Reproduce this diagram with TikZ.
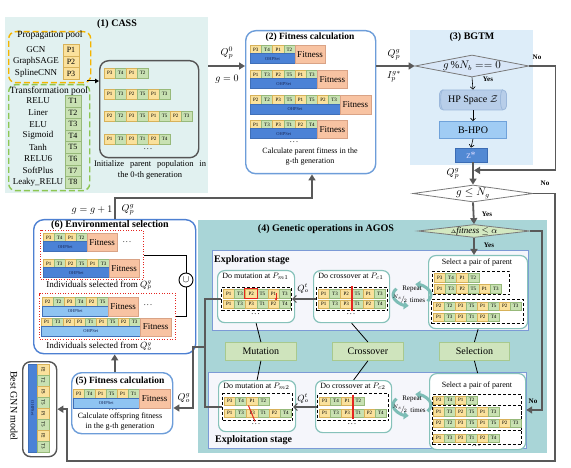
\documentclass[tikz,border=0pt]{standalone}
\usepackage{fontspec}
\usepackage{graphicx}
\setmainfont{Liberation Serif}
\usetikzlibrary{arrows.meta,shapes.geometric,calc}
\definecolor{cassbg}{HTML}{E1F1F0}
\definecolor{poolP}{HTML}{F4B400}
\definecolor{poolT}{HTML}{8DC653}
\definecolor{geneP}{HTML}{FAE19C}
\definecolor{gedgeP}{HTML}{D7B25A}
\definecolor{geneT}{HTML}{C8E1B2}
\definecolor{gedgeT}{HTML}{97B97A}
\definecolor{fitF}{HTML}{F8C3A2}
\definecolor{fitD}{HTML}{D9A386}
\definecolor{ohpD}{HTML}{4B82D6}
\definecolor{ohpL}{HTML}{8FC4F2}
\definecolor{ohpE}{HTML}{3F6FB8}
\definecolor{bluebox}{HTML}{6D9DD9}
\definecolor{popgray}{HTML}{555555}
\definecolor{agray}{HTML}{595959}
\definecolor{bgtmbg}{HTML}{DDEDF9}
\definecolor{diaF}{HTML}{D8E6F7}
\definecolor{diaD}{HTML}{7A7A7A}
\definecolor{hpF}{HTML}{B8CEE9}
\definecolor{hpD}{HTML}{9CB8DB}
\definecolor{bhF}{HTML}{A0CCF4}
\definecolor{bhD}{HTML}{6FA2DA}
\definecolor{zF}{HTML}{5289D3}
\definecolor{zD}{HTML}{3B6CB4}
\definecolor{tealbg}{HTML}{A9D5D7}
\definecolor{panelF}{HTML}{F5F6FB}
\definecolor{panelD}{HTML}{7C9AD6}
\definecolor{opD}{HTML}{86C2BA}
\definecolor{opF}{HTML}{CFE4BD}
\definecolor{opE}{HTML}{A8C98E}
\definecolor{fdF}{HTML}{D3E8C1}
\definecolor{repc}{HTML}{7DBDB6}
\definecolor{rd}{HTML}{E42520}
\definecolor{envD}{HTML}{4D80D2}
\definecolor{navy}{HTML}{1A2A5A}
\newcommand\fsz[1]{\fontsize{#1}{#1}\selectfont}
\newcommand\dd{.\hspace{1.2pt}.\hspace{1.2pt}.}
\newcommand\genes[6]{%
  \foreach \tp/\nm [count=\ii from 0] in {#6}{%
    \node[gene,fill=gene\tp,draw=gedge\tp,minimum width=#4pt,minimum height=#5pt,anchor=north west] (#1-\ii) at ({#2+\ii*#4},#3) {\tp\nm};
  }}
\newcommand\indiv[8]{%
  \genes{#1g}{#2}{#3}{#4}{8.5}{#6}
  \node[ohp,fill=#7,minimum width={#5*#4*1pt},minimum height=10pt,anchor=north west] (#1o) at (#2,#3+8.5) {OHPSet};
  \node[fitbox,minimum width=#8pt,minimum height=18.5pt,anchor=north west] (#1f) at ({#2+#5*#4},#3) {Fitness};}
\newcommand\bx[6]{\node[#6,anchor=north west,inner sep=0,minimum width={(#4-#2)*1pt},minimum height={(#5-#3)*1pt}] (#1) at (#2,#3) {};}
\begin{document}
\begin{tikzpicture}[x=1pt,y=-1pt,
  gene/.style={inner sep=0,line width=0.4pt,font=\fsz{5}},
  ohp/.style={inner sep=0,font=\fsz{4.5},text=navy,draw=ohpE,line width=0.3pt},
  fitbox/.style={inner sep=0,fill=fitF,draw=fitD,line width=0.4pt,font=\fsz{9}},
  arr/.style={draw=agray,line width=1.8pt,-{Triangle[length=6pt,width=7pt]}},
  tarr/.style={draw=black,line width=0.6pt,-{Straight Barb[length=2.5pt,width=5pt]}},
  oarr/.style={draw=agray,line width=1.2pt,-{Straight Barb[length=3.5pt,width=7pt]}},
  gline/.style={draw=agray,line width=1.6pt},
  lbl/.style={inner sep=0,font=\fsz{8}},
  mlbl/.style={inner sep=0,font=\fsz{10}},
  ttl/.style={inner sep=0,font=\bfseries\fsz{10}},
  yn/.style={inner sep=0,font=\bfseries\fsz{7}},
  opbox/.style={draw=opD,line width=1.2pt,rounded corners=7pt,fill=white},
  dbox/.style={draw=black,line width=1pt,dash pattern=on 3pt off 2pt},
  opg/.style={fill=opF,draw=opE,line width=0.8pt,font=\fsz{10}},
  rdot/.style={draw=rd,line width=1pt,dash pattern=on 1pt off 1.6pt},
  repa/.style={draw=repc,line width=3pt,-{Triangle[length=5pt,width=8pt]}},
  ]
\useasboundingbox (0,0) rectangle (571,468);
% ---------- backgrounds
\bx{cass}{5}{17}{208}{193}{fill=cassbg}
\bx{bgtm}{410}{30}{533}{165}{fill=bgtmbg}
\bx{agos}{198}{220}{547}{453}{fill=tealbg}
% ---------- (1) CASS
\node[ttl] (t1) at (117,24.5) {(1) CASS};
\bx{prop}{8}{31}{90}{82}{draw=poolP,line width=1.4pt,dash pattern=on 6pt off 3pt,rounded corners=7pt}
\node[inner sep=0,font=\fsz{9.5}] (tprop) at (50,35.5) {Propagation pool};
\foreach \lab/\nm [count=\ii from 0] in {GCN/1,GraphSAGE/2,SplineCNN/3}{
  \node[inner sep=0,font=\fsz{9}] (pl\ii) at (36,{50+11.7*\ii}) {\lab};
  \node[gene,fill=geneP,draw=gedgeP,font=\fsz{8},minimum width=16pt,minimum height=11.7pt] (pp\ii) at (71,{50+11.7*\ii}) {P\nm};
}
\bx{trans}{8}{84}{89}{190}{draw=poolT,line width=1.4pt,dash pattern=on 6pt off 3pt,rounded corners=7pt}
\node[inner sep=0,font=\fsz{9.5}] (ttrans) at (49,91) {Transformation pool};
\foreach \lab/\nm [count=\ii from 0] in {RELU/1,Liner/2,ELU/3,Sigmoid/4,Tanh/5,RELU6/6,SoftPlus/7,Leaky\_RELU/8}{
  \node[inner sep=0,font=\fsz{9}] (tl\ii) at (38,{101+11.6*\ii}) {\lab};
  \node[gene,fill=geneT,draw=gedgeT,font=\fsz{8},minimum width=16pt,minimum height=11.6pt] (tt\ii) at (73,{101+11.6*\ii}) {T\nm};
}
\bx{pop}{99}{60}{198}{157}{draw=popgray,line width=1.4pt,rounded corners=9pt}
\genes{pa}{104}{68}{11}{10}{P/3,T/4,P/1,T/2}
\genes{pb}{104}{89}{11}{10}{P/1,T/3,P/2,T/5,P/1,T/3}
\genes{pc}{104}{111}{11}{10}{P/2,T/2,P/3,T/5,P/1,T/5,P/2,T/3}
\genes{pd}{104}{134}{11}{10}{P/1,T/3,P/3,T/1,P/2,T/4}
\node[lbl] (pdots) at (148,149) {\dd};
\coordinate (poolout) at (87,81);
\draw[draw=black,line width=1pt,-{Triangle[length=4pt,width=4.5pt]}] (poolout) -- (poolout -| pop.west);
\node[inner sep=0,font=\fontsize{8.5}{11.5}\selectfont,align=center] (ptxt) at (150,170) {\makebox[112pt][s]{Initialize parent population in}\\the 0-th generation};
% ---------- (2) Fitness calculation
\bx{fc}{245}{30}{375}{173}{draw=bluebox,line width=1.4pt,rounded corners=10pt,fill=white}
\node[ttl,font=\bfseries\fsz{9.5}] (t2) at (310,37.5) {(2) Fitness calculation};
\indiv{fa}{250}{45}{11.2}{4}{P/3,T/4,P/1,T/2}{ohpD}{30}
\indiv{fb}{250}{70}{11.2}{6}{P/1,T/3,P/2,T/5,P/1,T/3}{ohpD}{30}
\indiv{fcr}{250}{95.5}{11.2}{8}{P/2,T/2,P/3,T/5,P/1,T/5,P/2,T/3}{ohpD}{31}
\indiv{fd}{250}{120}{11.2}{6}{P/1,T/3,P/3,T/1,P/2,T/4}{ohpD}{30}
\node[lbl] (fdots) at (294,142.5) {\dd};
\node[inner sep=0,font=\fontsize{8}{10}\selectfont,align=center] (t2txt) at (310,157) {Calculate parent fitness in the\\g-th generation};
% ---------- (3) BGTM
\node[ttl] (t3) at (472,37) {(3) BGTM};
\node[diamond,draw=diaD,fill=diaF,line width=0.8pt,minimum width=114pt,minimum height=22pt,inner sep=0] (dia1) at (472,66) {};
\node[inner sep=0,font=\fsz{10.5}] (dia1t) at (dia1) {$g\,\mathrm{\%}N_b == 0$};
\node[draw=hpD,fill=hpF,line width=0.8pt,minimum width=67pt,minimum height=20pt,inner sep=0,rounded corners=4pt,font=\fsz{10}] (hp) at (473,100) {HP Space $\mathcal{Z}$};
\draw[draw=hpD,line width=0.8pt] ([xshift=-4pt]hp.north east) arc[start angle=90,end angle=270,x radius=2.5pt,y radius=10pt];
\draw[draw=hpD,line width=0.8pt] ([xshift=4pt]hp.north west) arc[start angle=90,end angle=270,x radius=2.5pt,y radius=10pt];
\node[draw=bhD,fill=bhF,line width=0.8pt,minimum width=67pt,minimum height=17pt,inner sep=0,font=\fsz{10}] (bhpo) at (473,130) {B-HPO};
\node[draw=zD,fill=zF,line width=0.8pt,minimum width=32pt,minimum height=14pt,inner sep=0,font=\fsz{10},text=white!85!blue] (zs) at (471,155) {z*};
\draw[tarr] (dia1.south) -- (hp.north);
\draw[tarr] (hp.south) -- (bhpo.north);
\draw[tarr] (bhpo.south) -- (zs.north);
\node[yn] (yes1) at (488,79) {Yes};
\node[yn] (no1) at (537,57) {No};
\node[diamond,draw=diaD,fill=white,line width=0.8pt,minimum width=120pt,minimum height=17pt,inner sep=0] (dia2) at (473,193.5) {};
\node[inner sep=0,font=\fsz{10.5}] (dia2t) at (dia2) {$g \le N_g$};
\draw[arr] (zs.south -| dia2.north) -- (dia2.north);
\node[mlbl] (qpg2) at (453,174) {$Q_p^g$};
\coordinate (merge) at ($(zs.south -| dia2.north)!0.36!(dia2.north)$);
\draw[arr,shorten >=1pt] (dia1.east) -- ++(26,0) |- (merge);
\node[yn] (no2) at (545,183) {No};
% ---------- arrows (1)->(2)->(3)
\draw[arr] (cass.east |- dia1) -- (fc.west |- dia1);
\node[mlbl] (q0) at (227,53) {$Q_p^0$};
\node[mlbl] (g0) at (227,79) {$g=0$};
\draw[arr] (fc.east |- dia1) -- (dia1.west);
\node[mlbl] (qg) at (394,55) {$Q_p^g$};
\node[mlbl] (ig) at (394,77) {$I_p^{g*}$};
% ---------- (4) AGOS
\node[ttl] (t4) at (326,229) {(4) Genetic operations in AGOS};
\node[diamond,draw=diaD,fill=fdF,line width=0.8pt,minimum width=112pt,minimum height=13pt,inner sep=0] (dia3) at (474,231) {};
\node[inner sep=0,font=\fsz{9}] (dia3t) at (dia3) {{\fsz{5}$\Delta$}\textit{fitness} $\le\alpha$};
\draw[arr] (dia2.south) -- (dia3.north);
\node[yn] (yes2) at (487,214) {Yes};
\bx{explo}{212}{250}{528}{330}{fill=panelF,draw=panelD,line width=0.8pt}
\bx{explt}{208}{372}{526}{448}{fill=panelF,draw=panelD,line width=0.8pt}
\node[ttl,anchor=west] (texplo) at (214,260) {Exploration stage};
\node[ttl,anchor=west] (texplt) at (215,440) {Exploitation stage};
% exploration inner boxes
\bx{mut1}{217}{270}{294}{322}{opbox}
\bx{cro1}{313}{270}{389}{322}{opbox}
\bx{sel1}{428}{255}{527}{328}{opbox}
\node[lbl] (lm1) at (255.5,276.5) {Do mutation at $P_{m1}$};
\node[lbl] (lc1) at (351,276.5) {Do crossover at $P_{c1}$};
\node[lbl] (ls1) at (477,263) {Select a pair of parent};
\bx{mut1d}{221}{287}{291}{310}{dbox}
\genes{m1a}{223}{289}{11.2}{8.5}{P/1,T/3,P/2,T/5,P/1,T/3}
\genes{m1b}{223}{299.5}{11.2}{8.5}{P/1,T/3,P/3,T/1,P/2,T/4}
\draw[draw=rd,line width=1pt] ([shift={(-0.5pt,0.5pt)}]m1a-2.north west) rectangle ([shift={(0.5pt,-0.5pt)}]m1a-2.south east);
\draw[draw=rd,line width=0.7pt,-{Stealth[length=2.5pt,width=3pt]}] ([xshift=2.5pt]m1a-4.center) -- ([xshift=2.5pt,yshift=-1pt]m1b-4.north);
\node[lbl] (m1dots) at (255.5,314) {\dd};
\bx{cro1d}{316}{287}{387}{310}{dbox}
\genes{c1a}{318}{289}{11.2}{8.5}{P/1,T/3,P/2,T/5,P/1,T/3}
\genes{c1b}{318}{299.5}{11.2}{8.5}{P/1,T/3,P/3,T/1,P/2,T/4}
\draw[draw=rd,line width=1.2pt] ([yshift=3pt]c1a-2.north east) -- ([yshift=-3pt]c1b-2.south east);
\node[lbl] (c1dots) at (351,314) {\dd};
\draw[oarr] (cro1d.west) -- (mut1d.east);
\node[inner sep=0,font=\fsz{9}] (qo1) at (303,288.5) {$Q_o^t$};
\bx{sel1a}{432}{271}{509}{294}{dbox}
\genes{s1a}{434}{273}{11.2}{8.5}{P/3,T/4,P/1,T/2}
\genes{s1b}{434}{284}{11.2}{8.5}{P/1,T/3,P/2,T/5,P/1,T/3}
\node[lbl] (s1dots) at (476,295.5) {\dd};
\bx{sel1b}{431}{299}{523}{323}{dbox}
\genes{s1c}{433}{301.5}{11}{8.5}{P/2,T/2,P/3,T/5,P/1,T/5,P/2,T/3}
\genes{s1d}{433}{312.5}{11}{8.5}{P/1,T/3,P/3,T/1,P/2,T/4}
\node[lbl] (s1dots2) at (477,324.5) {\dd};
% repeat cycle 1
\coordinate (rep1) at (412,295);
\draw[repa] ([shift={(-35:19pt and 11pt)}]rep1) arc[start angle=-35,end angle=80,x radius=19pt,y radius=11pt];
\draw[repa] ([shift={(145:19pt and 11pt)}]rep1) arc[start angle=145,end angle=260,x radius=19pt,y radius=11pt];
\node[inner sep=0,font=\fsz{7}] (r1a) at (412,289) {Repeat};
\node[inner sep=0,font=\fsz{7}] (r1b) at (400,299) {${}^{N_s}\!/\!{}_{2}$};
\node[inner sep=0,font=\fsz{7}] (r1c) at (417.5,300.5) {times};
% operator boxes
\bx{mutop}{225}{342}{296}{360}{opg}
\bx{croop}{332}{342}{403}{360}{opg}
\bx{selop}{439}{342}{509}{360}{opg}
\node[inner sep=0,font=\fsz{10}] (mutl) at (mutop) {Mutation};
\node[inner sep=0,font=\fsz{10}] (crol) at (croop) {Crossover};
\node[inner sep=0,font=\fsz{10}] (sell) at (selop) {Selection};
\draw[line width=0.8pt] (mutop.north) -- (mut1.south);
\draw[line width=0.8pt] (croop.north) -- (cro1.south);
\draw[line width=0.8pt] (selop.north) -- (sel1.south);
% exploitation inner boxes
\bx{mut2}{218}{380}{295}{431}{opbox}
\bx{cro2}{315}{380}{391}{432}{opbox}
\bx{sel2}{429}{373}{525}{449}{opbox}
\draw[line width=0.8pt] (mutop.south) -- (mut2.north);
\draw[line width=0.8pt] (croop.south) -- (cro2.north);
\draw[line width=0.8pt] (selop.south) -- (sel2.north);
\node[lbl] (lm2) at (256.5,386) {Do mutation at $P_{m2}$};
\node[lbl] (lc2) at (353,386) {Do crossover at $P_{c2}$};
\node[lbl] (ls2) at (477,385.5) {Select a pair of parent};
\bx{mut2d}{222}{393}{292}{420}{dbox}
\genes{m2a}{224}{396.5}{11.2}{8.5}{P/3,T/4,P/1,T/2}
\genes{m2b}{224}{408.5}{11.2}{8.5}{P/1,T/3,P/3,T/1,P/2,T/4}
\draw[draw=rd,line width=1pt] ([shift={(2pt,3pt)}]m2b-2.north west) -- ([shift={(-3pt,-4pt)}]m2b-2.south east);
\node[lbl] (m2dots) at (256,424.5) {\dd};
\bx{cro2d}{317}{393}{388}{420}{dbox}
\genes{c2a}{319}{396.5}{11.2}{8.5}{P/3,T/4,P/1,T/2}
\genes{c2b}{319}{408.5}{11.2}{8.5}{P/1,T/3,P/3,T/1,P/2,T/4}
\draw[draw=rd,line width=1.2pt] ([yshift=2pt]c2a-2.north east) -- ([yshift=-2pt]c2b-2.south east);
\node[lbl] (c2dots) at (352,424.5) {\dd};
\draw[oarr] (cro2d.west) -- (mut2d.east);
\node[inner sep=0,font=\fsz{9}] (qo2) at (303,398.5) {$Q_o^t$};
\bx{sel2a}{432}{394}{521}{444}{dbox}
\bx{sel2b}{432}{404.5}{521}{430}{dbox}
\genes{s2a}{433}{395.5}{11}{8.5}{P/3,T/4,P/1,T/2}
\genes{s2b}{433}{407}{11}{8.5}{P/1,T/3,P/2,T/5,P/1,T/3}
\genes{s2c}{433}{418.5}{11}{8.5}{P/2,T/2,P/3,T/5,P/1,T/5,P/2,T/3}
\node[lbl] (s2dots) at (476,430.5) {\dd};
\genes{s2d}{433}{433.5}{11}{8.5}{P/1,T/3,P/3,T/1,P/2,T/4}
\node[lbl] (s2dots2) at (476,446) {\dd};
% repeat cycle 2
\coordinate (rep2) at (412,405);
\draw[repa] ([shift={(-35:19pt and 11pt)}]rep2) arc[start angle=-35,end angle=80,x radius=19pt,y radius=11pt];
\draw[repa] ([shift={(145:19pt and 11pt)}]rep2) arc[start angle=145,end angle=260,x radius=19pt,y radius=11pt];
\node[inner sep=0,font=\fsz{7}] (r2a) at (412,399) {Repeat};
\node[inner sep=0,font=\fsz{7}] (r2b) at (400,409) {${}^{N_s}\!/\!{}_{2}$};
\node[inner sep=0,font=\fsz{7}] (r2c) at (418,410.5) {times};
% yes / no from fitness diamond
\draw[arr] (dia3.south) -- (sel1.north -| dia3.south);
\node[yn] (yes3) at (489,245.5) {Yes};
\coordinate (nr) at (542,410);
\draw[arr] (dia3.east) -| (nr) -- (sel2.east |- nr);
\node[yn] (no3) at (533,401) {No};
% ---------- (6) Environmental selection
\bx{env}{33}{219}{195}{353}{draw=envD,line width=1.4pt,rounded corners=10pt,fill=white}
\node[ttl] (t6) at (110,225.5) {(6) Environmental selection};
\bx{dot1}{40}{230}{143}{279}{rdot}
\bx{dot2}{39}{293}{175}{339}{rdot}
\indiv{ea}{43}{233}{11}{4}{P/3,T/4,P/1,T/2}{ohpD}{30}
\node[lbl] (eadots) at (127,242) {\dd};
\indiv{eb}{43}{259}{11}{6}{P/1,T/3,P/2,T/5,P/1,T/3}{ohpD}{30}
\node[inner sep=0,font=\fsz{9}] (selp) at (99,285.5) {Individuals selected from $Q_p^g$};
\indiv{ec}{42}{297}{11}{6}{P/2,T/2,P/3,T/4,P/2,T/5}{ohpL}{30}
\node[lbl] (ecdots) at (148,305) {\dd};
\indiv{ed}{41}{317.5}{11}{9}{P/1,T/3,P/2,P/3,T/1,P/1,T/5,P/2,T/3}{ohpL}{31}
\node[inner sep=0,font=\fsz{9}] (selo) at (99,346.5) {Individuals selected from $Q_o^g$};
\node[circle,draw=black,line width=0.9pt,minimum size=14pt,inner sep=0,fill=white,font=\fsz{10}] (un) at (186,280) {$\cup$};
\draw[line width=0.9pt] (dot1.east) -| (un.north);
\draw[line width=0.9pt] (dot2.east) -| (un.south);
% g = g+1 loop back to (2)
\coordinate (gc) at (312,198);
\draw[arr] (env.north) |- (gc) -- (gc |- fc.south);
\node[mlbl] (gg) at (92,210) {$g=g+1$};
\node[mlbl] (qpg3) at (128,210) {$Q_p^g$};
% ---------- (5) Fitness calculation
\bx{fc5}{71}{372}{172}{433}{draw=bluebox,line width=1.4pt,rounded corners=10pt,fill=white}
\node[ttl,font=\bfseries\fsz{9.5}] (t5) at (120,381.5) {(5) Fitness calculation};
\indiv{fe}{73}{389}{11}{6}{P/3,T/4,P/1,T/5,P/1,T/1}{ohpL}{31}
\node[lbl] (fedots) at (113,410) {\dd};
\node[inner sep=0,font=\fontsize{8}{10}\selectfont,align=center] (t5txt) at (120,422) {Calculate offspring fitness\\in the g-th generation};
\draw[arr] (fc5.north -| env.south) -- (env.south);
% offspring line
\coordinate (j1) at (205,347);
\coordinate (k) at (193,408);
\draw[gline] (mut1d.west) -| (j1) |- (mut2d.west);
\draw[arr] (j1) -| (k) -- (k -| fc5.east);
\node[mlbl] (qog) at (184,398) {$Q_o^g$};
% ---------- Best GNN model
\bx{best}{22}{361}{56}{456}{draw=popgray,line width=1.4pt,rounded corners=8pt,fill=white}
\node[ohp,fill=ohpD,minimum width=9pt,minimum height=88pt,anchor=north west] (bo) at (28,364) {\rotatebox{-90}{OHPSet}};
\foreach \tp/\nm [count=\ii from 0] in {P/2,T/2,P/3,T/5,P/1,T/5,P/2,T/3}{
  \node[gene,fill=gene\tp,draw=gedge\tp,minimum width=12pt,minimum height=11pt,anchor=north west] (bg-\ii) at (37,{364+11*\ii}) {\rotatebox{-90}{\tp\nm}};
}
\node[inner sep=0,font=\fsz{10},rotate=-90] (bestlbl) at (14,406) {Best GNN model};
\coordinate (rt) at (555,461);
\coordinate (lb) at (67,461);
\draw[arr] (dia2.east) -| (rt) -- (lb) |- (best.east);
\end{tikzpicture}
\end{document}
